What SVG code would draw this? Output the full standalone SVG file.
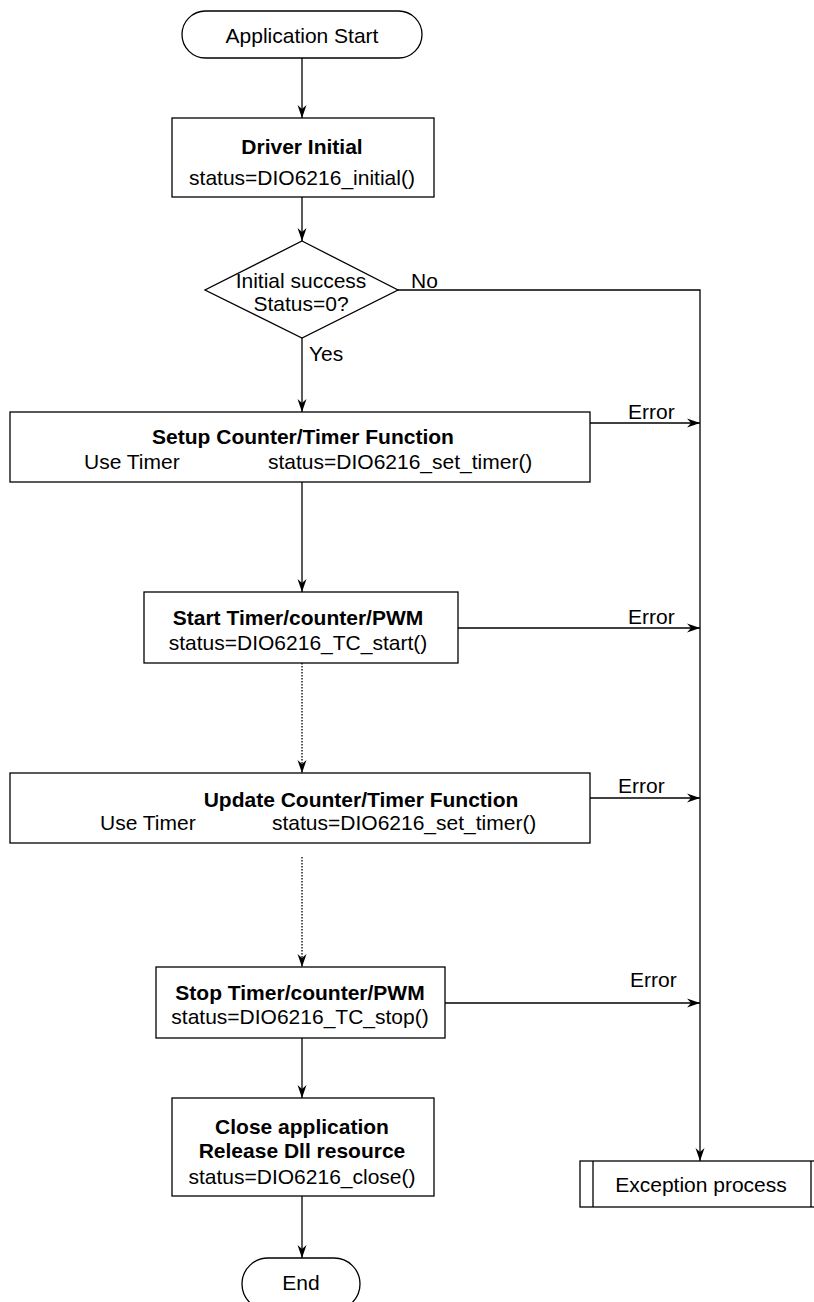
<svg xmlns="http://www.w3.org/2000/svg" width="814" height="1302" viewBox="0 0 814 1302">
  <defs>
    <marker id="arrow" viewBox="0 0 13 12" refX="13" refY="6" markerWidth="13" markerHeight="12" markerUnits="userSpaceOnUse" orient="auto">
      <path d="M0,1.5 L13,6 L0,10.5 L4,6 Z" fill="#000"/>
    </marker>
    <style>
      .shape { fill: #fff; stroke: #000; stroke-width: 1.3; }
      .line { fill: none; stroke: #000; stroke-width: 1.3; }
      .dotted { fill: none; stroke: #000; stroke-width: 1.3; stroke-dasharray: 1.5 1.5; }
      text { font-family: "Liberation Sans", Arial, sans-serif; font-size: 21px; fill: #000; }
      .b { font-weight: bold; }
      .c { text-anchor: middle; }
    </style>
  </defs>
  <rect width="814" height="1302" fill="#fff"/>

  <g id="connectors">
    <line class="line" x1="302" y1="58" x2="302" y2="118" marker-end="url(#arrow)"/>
    <line class="line" x1="302" y1="197" x2="302" y2="241" marker-end="url(#arrow)"/>
    <line class="line" x1="302" y1="338" x2="302" y2="412" marker-end="url(#arrow)"/>
    <line class="line" x1="302" y1="482" x2="302" y2="592" marker-end="url(#arrow)"/>
    <line class="dotted" x1="302" y1="663" x2="302" y2="773" marker-end="url(#arrow)"/>
    <line class="dotted" x1="302" y1="857" x2="302" y2="967" marker-end="url(#arrow)"/>
    <line class="line" x1="302" y1="1038" x2="302" y2="1098" marker-end="url(#arrow)"/>
    <line class="line" x1="302" y1="1196" x2="302" y2="1258" marker-end="url(#arrow)"/>
    <!-- failure path to exception handler -->
    <polyline class="line" points="398,290 700,290 700,1161" marker-end="url(#arrow)"/>
    <line class="line" x1="590" y1="423" x2="700" y2="423" marker-end="url(#arrow)"/>
    <line class="line" x1="458" y1="628" x2="700" y2="628" marker-end="url(#arrow)"/>
    <line class="line" x1="590" y1="798" x2="700" y2="798" marker-end="url(#arrow)"/>
    <line class="line" x1="445" y1="1003" x2="700" y2="1003" marker-end="url(#arrow)"/>
    <text x="411" y="288">No</text>
    <text x="309" y="361">Yes</text>
    <text x="628" y="419">Error</text>
    <text x="628" y="624">Error</text>
    <text x="618" y="793">Error</text>
    <text x="630" y="987">Error</text>
  </g>

  <g id="start">
    <rect class="shape" x="182" y="11" width="240" height="47" rx="23.5" ry="23.5"/>
    <text class="c" x="302" y="43">Application Start</text>
  </g>

  <g id="driver-initial">
    <rect class="shape" x="172" y="118" width="262" height="79"/>
    <text class="c b" x="302" y="154">Driver Initial</text>
    <text class="c" x="302" y="185">status=DIO6216_initial()</text>
  </g>

  <g id="initial-check">
    <polygon class="shape" points="302,241 398,290 302,338 205,290"/>
    <text class="c" x="301" y="288">Initial success</text>
    <text class="c" x="301" y="311">Status=0?</text>
  </g>

  <g id="setup-timer">
    <rect class="shape" x="10" y="412" width="580" height="70"/>
    <text class="c b" x="303" y="444">Setup Counter/Timer Function</text>
    <text x="84" y="469">Use Timer</text>
    <text x="268" y="469">status=DIO6216_set_timer()</text>
  </g>

  <g id="start-timer">
    <rect class="shape" x="144" y="592" width="314" height="71"/>
    <text class="c b" x="298" y="625">Start Timer/counter/PWM</text>
    <text class="c" x="298" y="650">status=DIO6216_TC_start()</text>
  </g>

  <g id="update-timer">
    <rect class="shape" x="10" y="773" width="580" height="70"/>
    <text class="c b" x="361" y="807">Update Counter/Timer Function</text>
    <text x="100" y="830">Use Timer</text>
    <text x="272" y="830">status=DIO6216_set_timer()</text>
  </g>

  <g id="stop-timer">
    <rect class="shape" x="156" y="967" width="289" height="71"/>
    <text class="c b" x="300" y="1000">Stop Timer/counter/PWM</text>
    <text class="c" x="300" y="1024">status=DIO6216_TC_stop()</text>
  </g>

  <g id="close-app">
    <rect class="shape" x="172" y="1098" width="262" height="98"/>
    <text class="c b" x="302" y="1134">Close application</text>
    <text class="c b" x="302" y="1158">Release Dll resource</text>
    <text class="c" x="302" y="1184">status=DIO6216_close()</text>
  </g>

  <g id="exception">
    <rect class="shape" x="580" y="1161" width="245" height="46"/>
    <line class="line" x1="593" y1="1161" x2="593" y2="1207"/>
    <line class="line" x1="811" y1="1161" x2="811" y2="1207"/>
    <text class="c" x="701" y="1192">Exception process</text>
  </g>

  <g id="end">
    <rect class="shape" x="242" y="1258" width="118" height="52" rx="26" ry="26"/>
    <text class="c" x="301" y="1290">End</text>
  </g>
</svg>
